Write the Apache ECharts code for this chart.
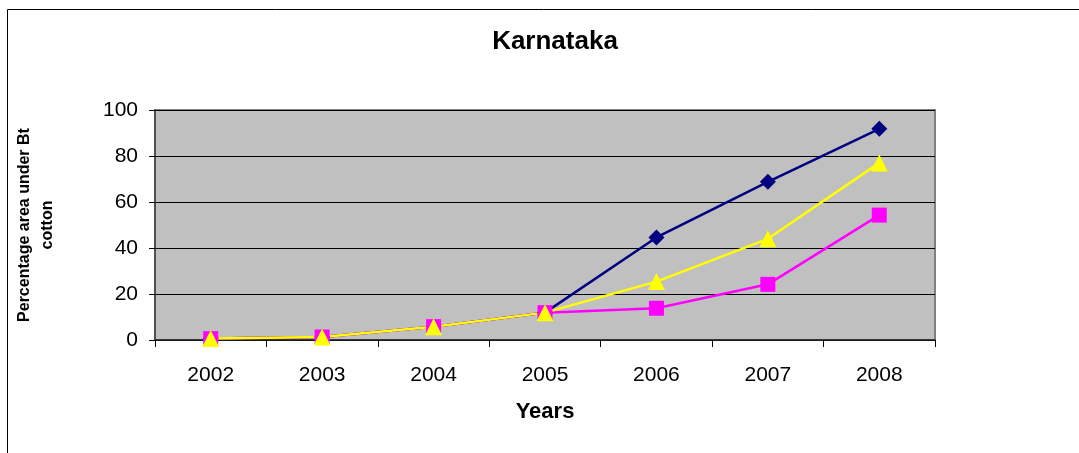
<!DOCTYPE html>
<html>
<head>
<meta charset="utf-8">
<script src="https://cdn.jsdelivr.net/npm/echarts@6/dist/echarts.min.js"></script>
<style>
  html, body { margin: 0; padding: 0; background: #fff; }
  #main { width: 1079px; height: 453px; }
</style>
</head>
<body>
<div id="main"></div>
<script>
// years on the x axis
var years = ['2002', '2003', '2004', '2005', '2006', '2007', '2008']
// three series (percentage area under Bt cotton)
var blueSeries = [0.6, 1.3, 5.8, 11.9, 44.6, 68.8, 91.8]
var pinkSeries = [0.6, 1.3, 5.8, 11.9, 13.8, 24.2, 54.3]
var yellowSeries = [0.6, 1.3, 5.8, 11.9, 25.4, 44.0, 77.0]

var myChart = echarts.init(document.getElementById('main'))
var option = {
  animation: false,
  backgroundColor: '#ffffff',
  title: {
    text: 'Karnataka',
    left: 550,
    top: 24,
    textAlign: 'center',
    textStyle: { fontFamily: 'Arial, Liberation Sans', fontWeight: 'bold', fontSize: 26, color: '#000' }
  },
  graphic: [
    {
      type: 'rect',
      shape: { x: 7.5, y: 9.5, width: 1200, height: 600 },
      style: { fill: 'none', stroke: '#000', lineWidth: 1 },
      silent: true
    }
  ],
  grid: {
    left: 155,
    right: 144,
    top: 110,
    bottom: 113,
    show: true,
    backgroundColor: '#c0c0c0',
    borderColor: '#808080',
    borderWidth: 2
  },
  xAxis: {
    type: 'category',
    data: years,
    boundaryGap: true,
    name: 'Years',
    nameLocation: 'middle',
    nameGap: 61,
    nameTextStyle: { fontFamily: 'Arial, Liberation Sans', fontWeight: 'bold', fontSize: 22, color: '#000' },
    axisLine: { lineStyle: { color: '#202020', width: 1.5 } },
    axisTick: { show: true, length: 7, interval: 0, lineStyle: { color: '#000' } },
    axisLabel: { fontFamily: 'Arial, Liberation Sans', fontSize: 21, color: '#000', margin: 25 },
    splitLine: { show: false }
  },
  yAxis: {
    type: 'value',
    min: 0,
    max: 100,
    interval: 20,
    name: 'Percentage area under Bt\ncotton',
    nameLocation: 'middle',
    nameGap: 96,
    nameTextStyle: { fontFamily: 'Arial, Liberation Sans', fontWeight: 'bold', fontSize: 16, color: '#000', lineHeight: 23 },
    axisLine: { show: true, lineStyle: { color: '#404040', width: 1.5 } },
    axisTick: { show: true, length: 6, lineStyle: { color: '#000' } },
    axisLabel: { fontFamily: 'Arial, Liberation Sans', fontSize: 21, color: '#000', margin: 17 },
    splitLine: { show: true, lineStyle: { color: '#000', width: 1 } }
  },
  series: [
    {
      name: 'blue',
      type: 'line',
      data: blueSeries,
      symbol: 'diamond',
      symbolSize: 16,
      lineStyle: { color: '#000080', width: 2.5 },
      itemStyle: { color: '#000080' }
    },
    {
      name: 'pink',
      type: 'line',
      data: pinkSeries,
      symbol: 'rect',
      symbolSize: 15,
      lineStyle: { color: '#ff00ff', width: 2.5 },
      itemStyle: { color: '#ff00ff' }
    },
    {
      name: 'yellow',
      type: 'line',
      data: yellowSeries,
      symbol: 'triangle',
      symbolSize: 17,
      lineStyle: { color: '#ffff00', width: 2.5 },
      itemStyle: { color: '#ffff00' }
    }
  ]
}
myChart.setOption(option)
</script>
</body>
</html>
